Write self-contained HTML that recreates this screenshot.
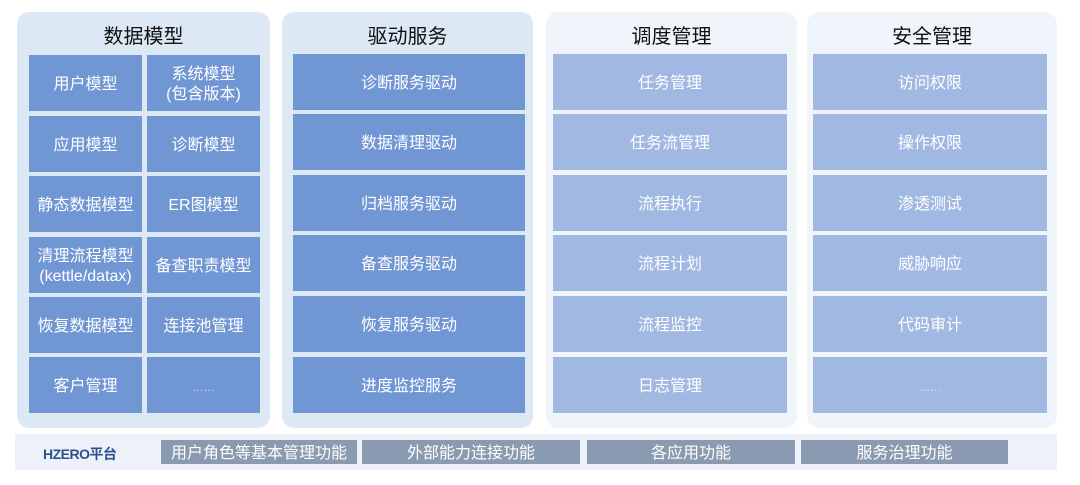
<!DOCTYPE html>
<html><head><meta charset="utf-8"><style>
*{margin:0;padding:0;box-sizing:border-box}
body{width:1080px;height:485px;background:#fff;position:relative;overflow:hidden;font-family:"Liberation Sans","Noto Sans CJK SC",sans-serif}
.p{position:absolute;top:12px;height:416px;border-radius:12px}
.a{background:#dde8f5}.b{background:#f0f5fb}
.t{position:absolute;top:13px;width:100%;text-align:center;font-size:20px;line-height:24px;color:#111}
.c{position:absolute;height:56px;display:flex;align-items:center;justify-content:center;text-align:center;color:#fff;font-size:16px;line-height:20px;padding-top:3px}
.d{background:#7196d4}.e{background:#a0b8e2}
.g{position:absolute;top:440px;height:24px;background:#8a9ab0;color:#fff;font-size:16px;line-height:27px;text-align:center}
.x{font-size:11px;color:#dde6f5;padding-top:6px}
</style></head><body>
<div class="p a" style="left:17px;width:253px"><div class="t">数据模型</div></div>
<div class="p a" style="left:282px;width:251px"><div class="t">驱动服务</div></div>
<div class="p b" style="left:546px;width:251px"><div class="t">调度管理</div></div>
<div class="p b" style="left:807px;width:250px"><div class="t">安全管理</div></div>

<div class="c d" style="left:29px;width:113px;top:55px">用户模型</div>
<div class="c d" style="left:147px;width:113px;top:55px">系统模型<br>(包含版本)</div>
<div class="c d" style="left:29px;width:113px;top:116px">应用模型</div>
<div class="c d" style="left:147px;width:113px;top:116px">诊断模型</div>
<div class="c d" style="left:29px;width:113px;top:176px">静态数据模型</div>
<div class="c d" style="left:147px;width:113px;top:176px">ER图模型</div>
<div class="c d" style="left:29px;width:113px;top:237px">清理流程模型<br>(kettle/datax)</div>
<div class="c d" style="left:147px;width:113px;top:237px">备查职责模型</div>
<div class="c d" style="left:29px;width:113px;top:297px">恢复数据模型</div>
<div class="c d" style="left:147px;width:113px;top:297px">连接池管理</div>
<div class="c d" style="left:29px;width:113px;top:357px">客户管理</div>
<div class="c d x" style="left:147px;width:113px;top:357px">……</div>

<div class="c d" style="left:293px;width:232px;top:54px">诊断服务驱动</div>
<div class="c d" style="left:293px;width:232px;top:114px">数据清理驱动</div>
<div class="c d" style="left:293px;width:232px;top:175px">归档服务驱动</div>
<div class="c d" style="left:293px;width:232px;top:235px">备查服务驱动</div>
<div class="c d" style="left:293px;width:232px;top:296px">恢复服务驱动</div>
<div class="c d" style="left:293px;width:232px;top:357px">进度监控服务</div>

<div class="c e" style="left:553px;width:234px;top:54px">任务管理</div>
<div class="c e" style="left:553px;width:234px;top:114px">任务流管理</div>
<div class="c e" style="left:553px;width:234px;top:175px">流程执行</div>
<div class="c e" style="left:553px;width:234px;top:235px">流程计划</div>
<div class="c e" style="left:553px;width:234px;top:296px">流程监控</div>
<div class="c e" style="left:553px;width:234px;top:357px">日志管理</div>

<div class="c e" style="left:813px;width:234px;top:54px">访问权限</div>
<div class="c e" style="left:813px;width:234px;top:114px">操作权限</div>
<div class="c e" style="left:813px;width:234px;top:175px">渗透测试</div>
<div class="c e" style="left:813px;width:234px;top:235px">威胁响应</div>
<div class="c e" style="left:813px;width:234px;top:296px">代码审计</div>
<div class="c e x" style="left:813px;width:234px;top:357px">……</div>

<div style="position:absolute;left:15px;top:434px;width:1042px;height:36px;background:#edf1f9"></div>
<div style="position:absolute;left:43px;top:444px;font-size:14px;font-weight:bold;color:#2d4f8e;letter-spacing:-0.5px">HZERO平台</div>
<div class="g" style="left:161px;width:196px">用户角色等基本管理功能</div>
<div class="g" style="left:362px;width:218px">外部能力连接功能</div>
<div class="g" style="left:587px;width:208px">各应用功能</div>
<div class="g" style="left:801px;width:207px">服务治理功能</div>
</body></html>
